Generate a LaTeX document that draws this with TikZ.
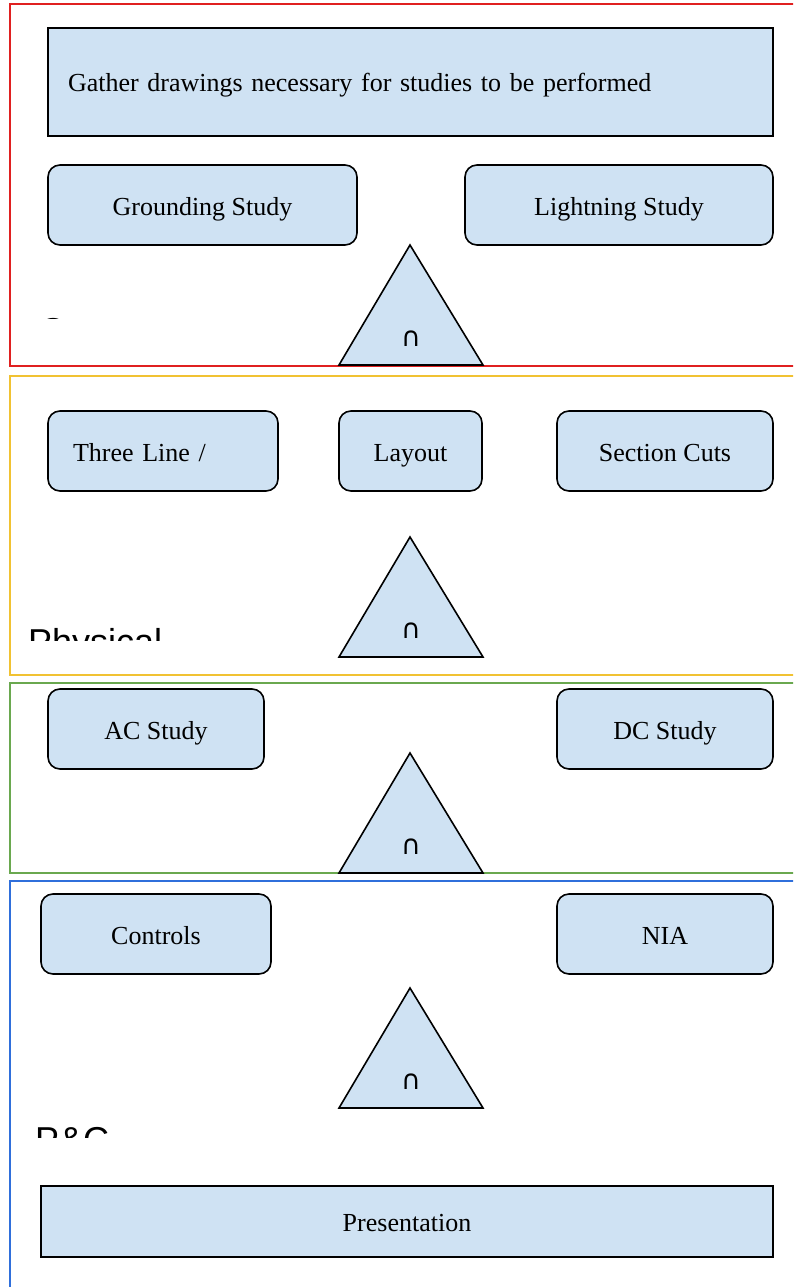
\documentclass[tikz,border=0pt]{standalone}
\usepackage{fontspec}
\setmainfont{Liberation Serif}
\newfontfamily\arialfont{Liberation Sans}
\newfontfamily\dejafont{DejaVu Sans}
\definecolor{boxblue}{HTML}{CFE2F3}
\definecolor{fred}{HTML}{E02020}
\definecolor{fyellow}{HTML}{F1C232}
\definecolor{fgreen}{HTML}{6AA84F}
\definecolor{fblue}{HTML}{2F6FDB}
\tikzset{
  box/.style={draw=black, line width=1.6pt, fill=boxblue, rounded corners=12pt,
    font=\fontsize{26}{30}\selectfont, inner sep=0pt, text height=21pt, text depth=1pt},
  sharpbox/.style={box, rounded corners=0pt},
  tri/.style={draw=black, line width=1.6pt, fill=boxblue, line join=miter},
  capsym/.style={inner sep=0pt, font=\dejafont\fontsize{27}{27}\selectfont},
  frame/.style={line width=1.8pt},
  seclabel/.style={inner sep=0pt, anchor=base west, font=\arialfont\fontsize{36}{40}\selectfont}
}
\begin{document}
\begin{tikzpicture}[x=1pt, y=-1pt]
\clip (0,0) rectangle (793,1287);
\fill[white] (0,0) rectangle (793,1287);
% frames
\draw[frame, fred] (10,4) rectangle (805,366);
\draw[frame, fyellow] (10,376) rectangle (805,675);
\draw[frame, fgreen] (10,683) rectangle (805,873);
\draw[frame, fblue] (10,881) rectangle (805,1300);
% section labels (clipped)
\begin{scope}
  \clip (0,300) rectangle (300,318);
  \node[seclabel] (lab1) at (39,343) {C};
\end{scope}
\begin{scope}
  \clip (0,600) rectangle (300,640);
  \node[seclabel] (lab2) at (28,654) {Physical};
\end{scope}
\begin{scope}
  \clip (0,1100) rectangle (300,1137);
  \node[seclabel] (lab4) at (35,1152) {P\&C};
\end{scope}
% section 1
\node[sharpbox, minimum width=725pt, minimum height=108pt, text width=685pt, inner xsep=20pt, align=left] (gather) at (410.5,82) {Gather drawings necessary for studies to be performed};
\node[box, minimum width=309pt, minimum height=80pt] (ground) at (202.5,205) {Grounding Study};
\node[box, minimum width=308pt, minimum height=80pt] (light) at (619,205) {Lightning Study};
\draw[tri] (410,245) -- (483,365) -- (339,365) -- cycle;
\node[capsym] (cap1) at (411,339) {∩};
% section 2
\node[box, minimum width=230pt, minimum height=80pt, text width=180pt, inner xsep=25pt, align=left] (three) at (163,451) {Three Line /};
\node[box, minimum width=143pt, minimum height=80pt] (layout) at (410.5,451) {Layout};
\node[box, minimum width=216pt, minimum height=80pt] (cuts) at (665,451) {Section Cuts};
\draw[tri] (410,537) -- (483,657) -- (339,657) -- cycle;
\node[capsym] (cap2) at (411,631) {∩};
% section 3
\node[box, minimum width=216pt, minimum height=80pt] (ac) at (156,729) {AC Study};
\node[box, minimum width=216pt, minimum height=80pt] (dc) at (665,729) {DC Study};
\draw[tri] (410,753) -- (483,873) -- (339,873) -- cycle;
\node[capsym] (cap3) at (411,847) {∩};
% section 4
\node[box, minimum width=230pt, minimum height=80pt] (controls) at (156,934) {Controls};
\node[box, minimum width=216pt, minimum height=80pt] (nia) at (665,934) {NIA};
\draw[tri] (410,988) -- (483,1108) -- (339,1108) -- cycle;
\node[capsym] (cap4) at (411,1082) {∩};
\node[sharpbox, minimum width=732pt, minimum height=71pt] (pres) at (407,1221.5) {Presentation};
\end{tikzpicture}
\end{document}
